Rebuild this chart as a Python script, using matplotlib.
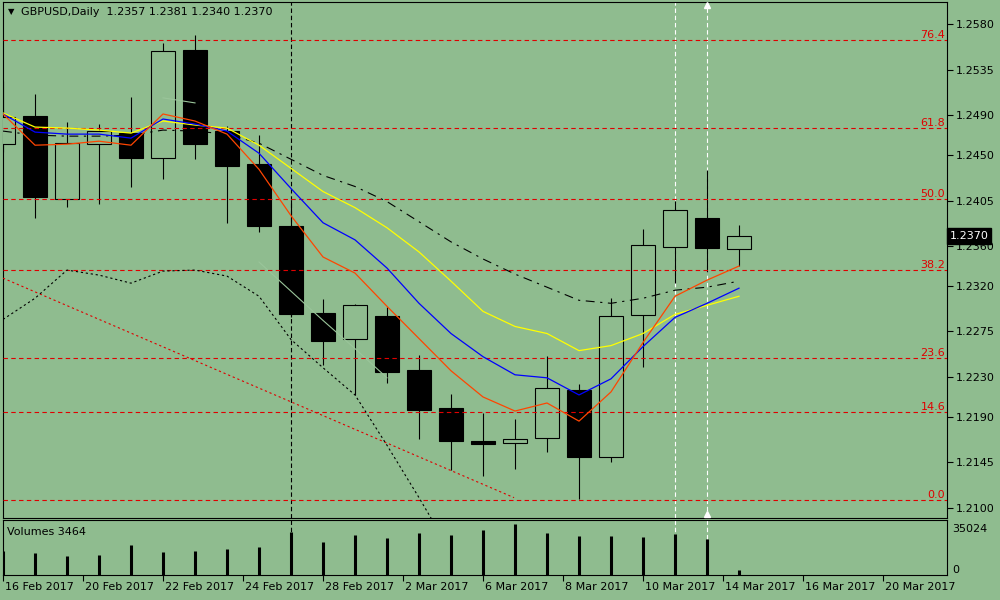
import numpy as np
import matplotlib
matplotlib.use('Agg')
import matplotlib.pyplot as plt
from matplotlib.transforms import ScaledTranslation

# ---------------- data ----------------
symbol = "GBPUSD"
timeframe = "Daily"

opens  = [1.2461, 1.2489, 1.2407, 1.2461, 1.2472, 1.2447, 1.2555, 1.2474, 1.2441, 1.2380,
          1.2293, 1.2268, 1.2290, 1.2237, 1.2199, 1.2166, 1.2164, 1.2169, 1.2217, 1.2150,
          1.2291, 1.2359, 1.2388, 1.2357]
highs  = [1.2524, 1.2511, 1.2483, 1.2481, 1.2508, 1.2561, 1.2569, 1.2479, 1.2470, 1.2406,
          1.2307, 1.2302, 1.2299, 1.2252, 1.2213, 1.2194, 1.2188, 1.2251, 1.2223, 1.2308,
          1.2377, 1.2405, 1.2435, 1.2381]
lows   = [1.2453, 1.2388, 1.2399, 1.2402, 1.2418, 1.2426, 1.2446, 1.2383, 1.2374, 1.2289,
          1.2242, 1.2212, 1.2224, 1.2168, 1.2137, 1.2132, 1.2138, 1.2155, 1.2109, 1.2145,
          1.2240, 1.2323, 1.2334, 1.2340]
closes = [1.2488, 1.2409, 1.2462, 1.2474, 1.2447, 1.2554, 1.2461, 1.2439, 1.2380, 1.2292,
          1.2266, 1.2301, 1.2235, 1.2197, 1.2166, 1.2163, 1.2168, 1.2219, 1.2150, 1.2290,
          1.2361, 1.2396, 1.2358, 1.2370]
volumes = [16480, 15110, 13050, 13730, 20600, 15800, 16480, 17860, 19230, 29530,
           22660, 27470, 25410, 28840, 27470, 30900, 35024, 28840, 26780, 26780,
           26100, 28160, 24720, 3464]

ma_orange = [1.2491, 1.2460, 1.2461, 1.2464, 1.2460, 1.2491, 1.2484, 1.2471, 1.2436, 1.2390,
             1.2349, 1.2333, 1.2300, 1.2268, 1.2236, 1.2210, 1.2196, 1.2204, 1.2186, 1.2215,
             1.2264, 1.2310, 1.2326, 1.2340]
ma_blue   = [1.2491, 1.2473, 1.2471, 1.2471, 1.2467, 1.2486, 1.2481, 1.2474, 1.2452, 1.2417,
             1.2383, 1.2366, 1.2338, 1.2303, 1.2273, 1.2250, 1.2232, 1.2229, 1.2212, 1.2228,
             1.2260, 1.2289, 1.2303, 1.2318]
ma_yellow = [1.2492, 1.2478, 1.2477, 1.2475, 1.2472, 1.2484, 1.2480, 1.2477, 1.2460, 1.2437,
             1.2414, 1.2398, 1.2378, 1.2354, 1.2325, 1.2295, 1.2280, 1.2273, 1.2256, 1.2261,
             1.2273, 1.2292, 1.2301, 1.2310]
ma_black  = [1.2474, 1.2470, 1.2469, 1.2469, 1.2470, 1.2475, 1.2474, 1.2471, 1.2462, 1.2446,
             1.2430, 1.2419, 1.2404, 1.2384, 1.2364, 1.2347, 1.2332, 1.2319, 1.2306, 1.2303,
             1.2308, 1.2316, 1.2319, 1.2325]
nan = float('nan')
band_lower = [1.2287, 1.2308, 1.2336, 1.2331, 1.2323, 1.2335, 1.2336, 1.2330, 1.2310, 1.2267,
              1.2239, 1.2212, 1.2162, 1.2110, 1.2056, nan, nan, nan, nan, nan,
              nan, nan, nan, nan]
hidden_ma = [nan, nan, nan, nan, nan, 1.2507, 1.2502, nan, 1.2344, 1.2315,
             1.2286, 1.2258, 1.2229, nan, nan, nan, nan, nan, nan, nan,
             nan, nan, nan, nan]

trend_bars = [0.0, 15.97]
trend_prices = [1.2328, 1.2110]

fib_low, fib_high = 1.2108, 1.2706
fib_levels = [0.0, 14.6, 23.6, 38.2, 50.0, 61.8, 76.4]

price_ticks = [1.2580, 1.2535, 1.2490, 1.2450, 1.2405, 1.2360, 1.2320,
               1.2275, 1.2230, 1.2190, 1.2145, 1.2100]
date_labels = ['16 Feb 2017', '20 Feb 2017', '22 Feb 2017', '24 Feb 2017', '28 Feb 2017',
               '2 Mar 2017', '6 Mar 2017', '8 Mar 2017', '10 Mar 2017', '14 Mar 2017',
               '16 Mar 2017', '20 Mar 2017']
date_tick_pos = [0, 2.5, 5, 7.5, 10, 12.5, 15, 17.5, 20, 22.5, 25, 27.5]

vline_black = [9]
vline_white = [21, 22]

# ---------------- style ----------------
BG = '#8FBC8F'
FS = 8
plt.rcParams['font.family'] = ['DejaVu Sans']

fig = plt.figure(figsize=(10, 6), dpi=100, facecolor=BG)
ax = fig.add_axes([0.0025, 1 - 518 / 600, 0.9445, 516 / 600], facecolor=BG)
axv = fig.add_axes([0.0025, 1 - 575 / 600, 0.9445, 55 / 600], facecolor=BG)

x = np.arange(len(opens))
o = np.array(opens)
c = np.array(closes)
up = c >= o

# vertical lines (behind candles and volume bars)
for a in (ax, axv):
    for b in vline_black:
        a.axvline(b, color='black', lw=0.8, ls=(0, (4, 2.5)), zorder=1.5)
    for b in vline_white:
        a.axvline(b, color='white', lw=0.8, ls=(0, (4, 2.5)), zorder=1.5)

# wicks & bodies
ax.vlines(x, lows, highs, color='black', lw=0.8, zorder=2)
ax.bar(x[up], (c - o)[up], bottom=o[up], width=0.75, facecolor=BG,
       edgecolor='black', linewidth=0.8, zorder=3)
ax.bar(x[~up], (c - o)[~up], bottom=o[~up], width=0.75, facecolor='black',
       edgecolor='black', linewidth=0.8, zorder=3)

# hidden MA (background-ish colour, shows over black bodies)
ax.plot(x, hidden_ma, color='#9AC59A', lw=0.8, zorder=4)

# fibonacci levels
for lv in fib_levels:
    price = fib_low + lv / 100.0 * (fib_high - fib_low)
    ax.axhline(price, color='#E00000', lw=0.8, ls=(0, (4, 3)), zorder=4)
    ax.text(0.998, price, f'{lv:.1f}', transform=ax.get_yaxis_transform(),
            ha='right', va='bottom', color='#E00000', fontsize=FS, zorder=6)

# trend line & lower band
ax.plot(trend_bars, trend_prices, color='#E00000', lw=0.8, ls=(0, (2, 2.5)), zorder=4)
ax.plot(x, band_lower, color='black', lw=0.8, ls=(0, (2, 2.5)), zorder=4)

# moving averages
ax.plot(x, ma_black, color='black', lw=0.8, ls=(0, (8, 5, 2, 5)), zorder=5)
ax.plot(x, ma_yellow, color='#FFFF00', lw=0.9, zorder=5)
ax.plot(x, ma_blue, color='#0000FF', lw=0.9, zorder=5)
ax.plot(x, ma_orange, color='#FF4500', lw=0.9, zorder=5)

ax.plot([vline_white[-1]] * 2, [0.994, 0.008], transform=ax.get_xaxis_transform(),
        ls='none', marker='^', ms=4, color='white', clip_on=False, zorder=7)

# axes limits
xmin, xmax = -0.016, 29.5
ax.set_xlim(xmin, xmax)
ax.set_ylim(1.20898, 1.26022)
axv.set_xlim(xmin, xmax)
axv.set_ylim(0, max(volumes) * 55 / 51)

# volume bars
axv.vlines(x, 0, volumes, color='black', lw=2.2, zorder=3)

# ticks main
ax.set_xticks([])
ax.yaxis.tick_right()
ax.set_yticks(price_ticks)
ax.set_yticklabels([f'{p:.4f}' for p in price_ticks])
ax.tick_params(axis='y', direction='out', length=4, width=0.8, pad=2,
               labelsize=FS, colors='black')

# ticks volume
axv.yaxis.tick_right()
axv.set_yticks([0, max(volumes)])
axv.set_yticklabels(['0', str(max(volumes))])
axv.tick_params(axis='y', length=0, pad=4, labelsize=FS)
ylabels = axv.get_yticklabels()
ylabels[0].set_va('bottom')
ylabels[1].set_va('top')

axv.set_xticks(date_tick_pos)
axv.set_xticklabels(date_labels, ha='left')
axv.tick_params(axis='x', direction='out', length=4, width=0.8, pad=1, labelsize=FS)
off = ScaledTranslation(2 / 100, 0, fig.dpi_scale_trans)
for lbl in axv.get_xticklabels():
    lbl.set_transform(lbl.get_transform() + off)

for a in (ax, axv):
    for s in a.spines.values():
        s.set_color('black')
        s.set_linewidth(0.8)

# current price box
ax.text(1.003, closes[-1], f'{closes[-1]:.4f}', transform=ax.get_yaxis_transform(),
        color='white', fontsize=FS, ha='left', va='center', zorder=20, clip_on=False,
        bbox=dict(boxstyle='square,pad=0.25', fc='black', ec='black'))

# header texts
fig.text(0.0075, 1 - 12 / 600, '\u25BC', fontsize=6, va='center', ha='left', color='black')
fig.text(0.021, 1 - 12 / 600,
         f'{symbol},{timeframe}  {opens[-1]:.4f} {highs[-1]:.4f} {lows[-1]:.4f} {closes[-1]:.4f}',
         fontsize=FS, va='center', ha='left', color='black')
fig.text(0.007, 1 - 532 / 600, f'Volumes {volumes[-1]}', fontsize=FS,
         va='center', ha='left', color='black')

fig.savefig('out.png', dpi=100, facecolor=BG)
